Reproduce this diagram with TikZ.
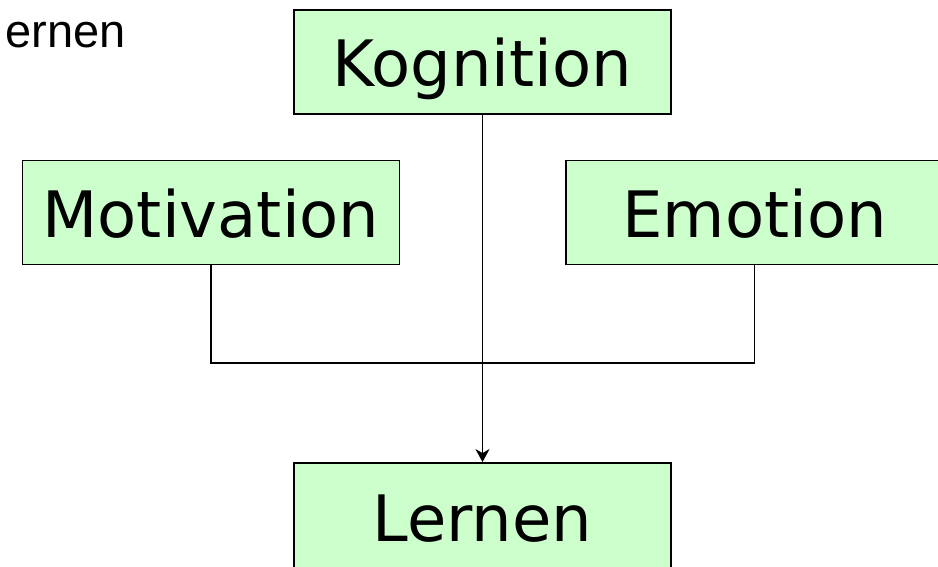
\documentclass[tikz,border=0pt]{standalone}
\usepackage{fontspec}
\setmainfont{Liberation Sans}
\newfontfamily\boxfont{DejaVu Sans}
\usetikzlibrary{arrows.meta}
\definecolor{boxgreen}{HTML}{CCFFCC}
\tikzset{box/.style={draw,line width=1.8pt,fill=boxgreen,inner sep=0pt,minimum width=377pt,minimum height=104pt,text height=50pt,text depth=0pt,font=\boxfont\fontsize{64}{70}\selectfont}}
\begin{document}
\begin{tikzpicture}[x=1pt,y=1pt]
\useasboundingbox (0,0) rectangle (938,567);
\node[anchor=base west,font=\fontsize{47}{52}\selectfont] (title) at (2,519) {ernen};
\node[box] (kog) at (482.5,505) {Kognition};
\node[box] (mot) at (211,354.5) {Motivation};
\node[box] (emo) at (754.5,354.5) {Emotion};
\node[box,minimum height=108pt] (lern) at (482.5,50) {Lernen};
\coordinate (jn) at (482.5,204);
\draw[line width=1.8pt] (mot.south) |- (jn) -| (emo.south);
\draw[line width=1.8pt,-{Stealth[length=13pt,width=14pt,inset=4pt]}] (kog.south) -- (lern.north);
\end{tikzpicture}
\end{document}
